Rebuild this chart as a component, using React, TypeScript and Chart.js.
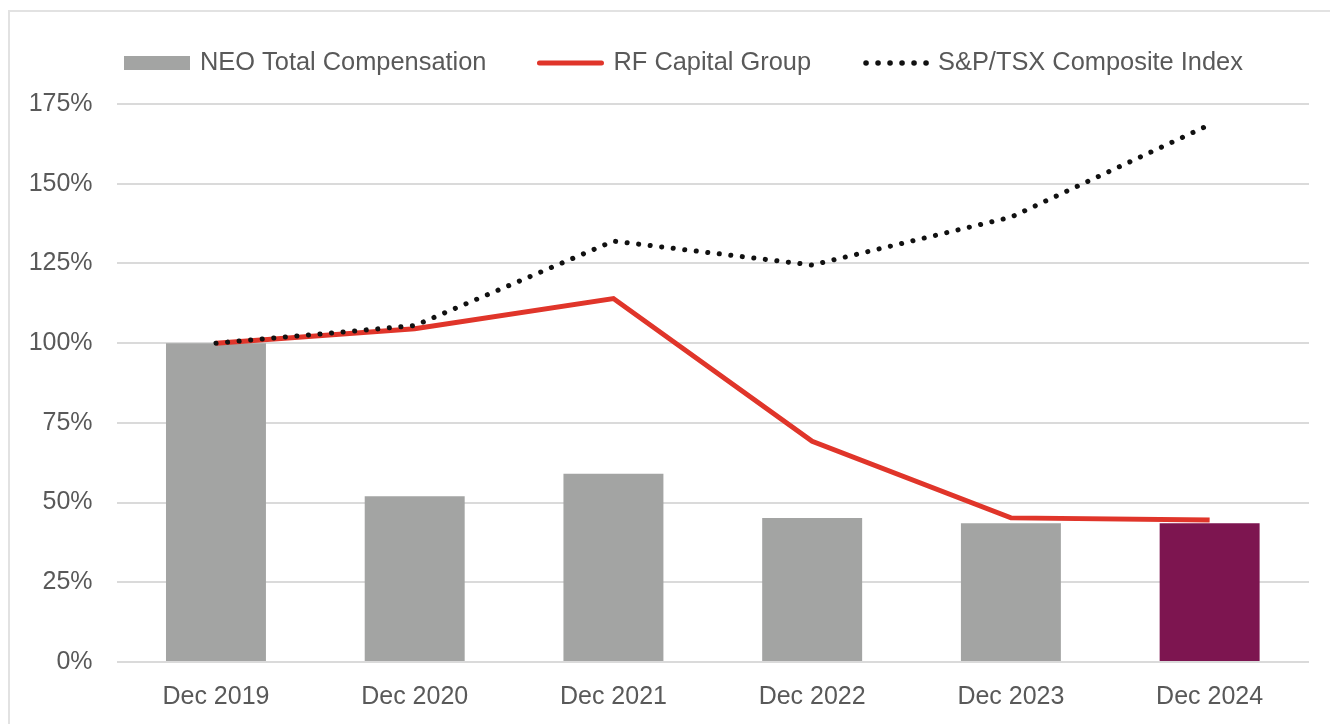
import React, { useEffect, useRef } from "react";
import { Chart, registerables } from "chart.js";

Chart.register(...registerables);

const categories = ["Dec 2019", "Dec 2020", "Dec 2021", "Dec 2022", "Dec 2023", "Dec 2024"];
const neoCompensation = [100, 52, 59, 45.2, 43.5, 43.5];
const rfCapital = [100, 104.5, 114, 69.2, 45.2, 44.5];
const tsxIndex = [100, 105.5, 132, 124.5, 139.5, 168.5];
const yTicks = [0, 25, 50, 75, 100, 125, 150, 175];

const TEXT = "#595959";
const FONT = "'Liberation Sans', Arial, sans-serif";
const GRAY = "#a3a4a3";
const PURPLE = "#7d1550";
const RED = "#e0352a";
const GRID = "#dadada";

const legendPlugin = {
  id: "customLegend",
  afterDraw(chart: any) {
    const ctx = chart.ctx;
    const ds = chart.data.datasets;
    ctx.save();
    ctx.font = `25.4px ${FONT}`;
    ctx.textBaseline = "middle";
    ctx.fillStyle = TEXT;
    const cy = 51;
    let x = 114;
    const sw = 66;
    const gap = 10;
    const itemGap = 51;
    // item 1: bar
    ctx.fillStyle = GRAY;
    ctx.fillRect(x, cy - 7, sw, 14);
    x += sw + gap;
    ctx.fillStyle = TEXT;
    ctx.fillText(ds[0].label, x, cy);
    x += ctx.measureText(ds[0].label).width + itemGap;
    // item 2: red line
    ctx.strokeStyle = RED;
    ctx.lineWidth = 5;
    ctx.lineCap = "round";
    ctx.beginPath();
    ctx.moveTo(x + 2, cy);
    ctx.lineTo(x + sw - 2, cy);
    ctx.stroke();
    x += sw + gap;
    ctx.fillStyle = TEXT;
    ctx.fillText(ds[1].label, x, cy);
    x += ctx.measureText(ds[1].label).width + itemGap;
    // item 3: dots
    ctx.fillStyle = "#111";
    for (let i = 0; i < 6; i++) {
      ctx.beginPath();
      ctx.arc(x + 4 + i * 12, cy, 2.8, 0, Math.PI * 2);
      ctx.fill();
    }
    x += sw + gap;
    ctx.fillStyle = TEXT;
    ctx.fillText(ds[2].label, x, cy);
    ctx.restore();
  },
};

export default function App() {
  const ref = useRef<HTMLCanvasElement>(null);
  useEffect(() => {
    if (!ref.current) return;
    const chart = new Chart(ref.current, {
      type: "bar",
      data: {
        labels: categories,
        datasets: [
          {
            type: "bar",
            label: "NEO Total Compensation",
            data: neoCompensation,
            backgroundColor: neoCompensation.map((_, i) => (i === neoCompensation.length - 1 ? PURPLE : GRAY)),
            barPercentage: 0.503,
            categoryPercentage: 1,
            order: 3,
          } as any,
          {
            type: "line",
            label: "RF Capital Group",
            data: rfCapital,
            borderColor: RED,
            borderWidth: 5,
            pointRadius: 0,
            tension: 0,
            borderJoinStyle: "miter",
            order: 2,
          } as any,
          {
            type: "line",
            label: "S&P/TSX Composite Index",
            data: tsxIndex,
            borderColor: "#111",
            borderWidth: 5,
            borderDash: [0.1, 11.5],
            borderCapStyle: "round",
            pointRadius: 0,
            tension: 0,
            order: 1,
          } as any,
        ],
      },
      options: {
        animation: false,
        responsive: false,
        maintainAspectRatio: false,
        layout: { padding: { top: 92, right: 21, left: 0, bottom: 0 } },
        plugins: {
          legend: { display: false },
          tooltip: { enabled: false },
        },
        scales: {
          x: {
            offset: true,
            grid: { display: false },
            border: { display: false },
            ticks: {
              color: TEXT,
              font: { family: FONT, size: 25 },
              padding: 12,
            },
            afterFit: (s: any) => {
              s.height = 62;
            },
          },
          y: {
            min: 0,
            max: 175,
            afterBuildTicks: (s: any) => {
              s.ticks = yTicks.map((v) => ({ value: v }));
            },
            grid: { color: GRID, lineWidth: 2, drawTicks: false },
            border: { display: false },
            ticks: {
              color: TEXT,
              font: { family: FONT, size: 25 },
              padding: 24,
              callback: (v: any) => `${v}%`,
            },
            afterFit: (s: any) => {
              s.width = 106.6;
            },
          },
        },
      },
      plugins: [legendPlugin],
    });
    return () => chart.destroy();
  }, []);
  return (
    <div
      style={{
        marginTop: 2,
        width: 1324,
        height: 740,
        border: "2px solid #e2e2e2",
        background: "#fff",
        boxSizing: "content-box",
      }}
    >
      <canvas ref={ref} width={1320} height={712} style={{ display: "block", width: 1320, height: 712 }} />
    </div>
  );
}
